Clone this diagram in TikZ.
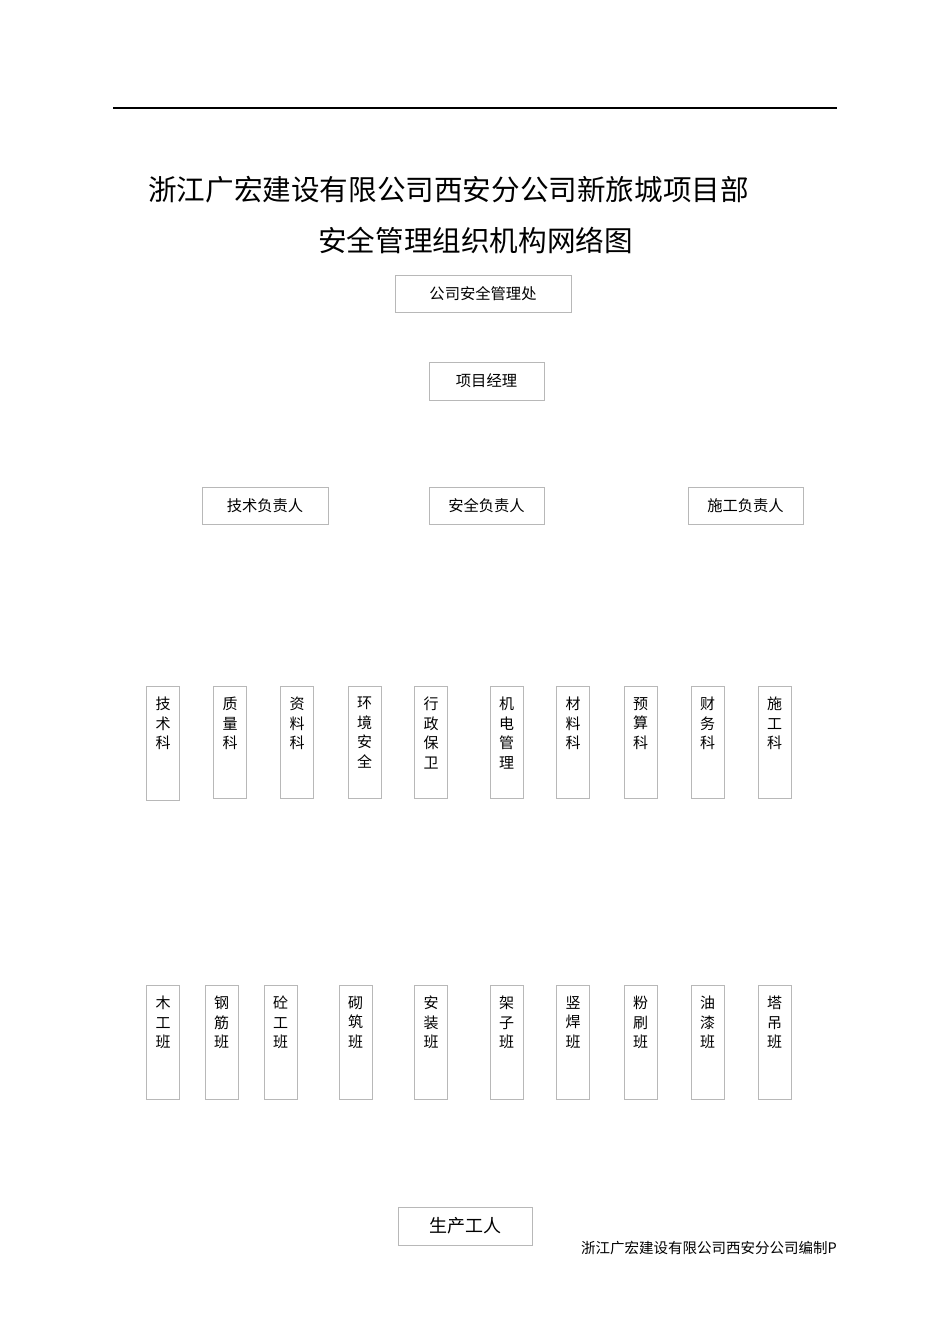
\documentclass[tikz,border=0pt]{standalone}
\usepackage{fontspec}
\setmainfont{Noto Sans CJK SC}
\begin{document}
\begin{tikzpicture}[x=1pt,y=-1pt,
  hbox/.style={draw=black!28,line width=1pt,inner sep=0pt,font=\fontsize{15.3}{18}\selectfont},
  vbox/.style={draw=black!28,line width=1pt,inner sep=0pt,minimum width=33},
  vtxt/.style={anchor=north,inner sep=0pt,align=center,font=\fontsize{15}{19.5}\selectfont},
  titlef/.style={inner sep=0pt,font=\fontsize{28.6}{32}\selectfont}]
\useasboundingbox (0,0) rectangle (950,1344);
\coordinate (l1) at (113,108);
\coordinate (l2) at (837,108);
\draw[line width=1.8pt] (l1) -- (l2);
\node[titlef,anchor=west] (t1) at (148,190) {浙江广宏建设有限公司西安分公司新旅城项目部};
\node[titlef] (t2) at (475.5,240) {安全管理组织机构网络图};
\node[hbox,minimum width=176,minimum height=37] (gs) at (483,293.5) {公司安全管理处};
\node[hbox,minimum width=115,minimum height=38] (xm) at (486.5,381) {项目经理};
\node[hbox,minimum width=126,minimum height=37] (js) at (265,505.5) {技术负责人};
\node[hbox,minimum width=115,minimum height=37] (aq) at (486.5,505.5) {安全负责人};
\node[hbox,minimum width=115,minimum height=37] (sg) at (745.5,505.5) {施工负责人};
% row 1
\foreach \n/\x/\h/\t in {k1/163/114/{技\\术\\科},k2/230/112/{质\\量\\科},k3/297/112/{资\\料\\科},k4/364.5/112/{环\\境\\安\\全},k5/431/112/{行\\政\\保\\卫},k6/506.5/112/{机\\电\\管\\理},k7/573/112/{材\\料\\科},k8/640.5/112/{预\\算\\科},k9/707.5/112/{财\\务\\科},k10/774.5/112/{施\\工\\科}}{
  \node[vbox,minimum height=\h,anchor=north] (\n) at (\x,686) {};
  \node[vtxt] (\n t) at ([yshift=-11]\n.north) {\t};
}
% row 2
\foreach \n/\x/\t in {b1/163/{木\\工\\班},b2/221.5/{钢\\筋\\班},b3/280.5/{砼\\工\\班},b4/355.5/{砌\\筑\\班},b5/431/{安\\装\\班},b6/506.5/{架\\子\\班},b7/573/{竖\\焊\\班},b8/640.5/{粉\\刷\\班},b9/707.5/{油\\漆\\班},b10/774.5/{塔\\吊\\班}}{
  \node[vbox,minimum height=114,anchor=north] (\n) at (\x,985) {};
  \node[vtxt] (\n t) at ([yshift=-11]\n.north) {\t};
}
\node[hbox,minimum width=134,minimum height=38,font=\fontsize{18}{20}\selectfont] (sc) at (465,1226) {生产工人};
\node[anchor=east,inner sep=0pt,font=\fontsize{14.5}{16}\selectfont] (ft) at (837,1248) {浙江广宏建设有限公司西安分公司编制P};
\end{tikzpicture}
\end{document}
